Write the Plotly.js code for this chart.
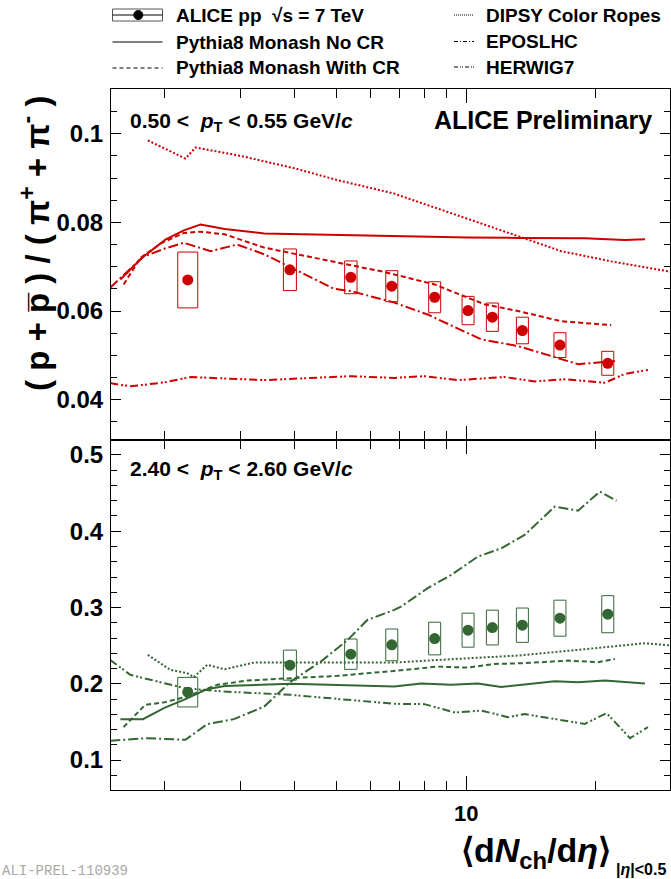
<!DOCTYPE html>
<html><head><meta charset="utf-8">
<script src="https://cdn.plot.ly/plotly-3.0.1.min.js"></script>
<style>html,body{margin:0;padding:0;background:#fff}#chart{width:671px;height:879px}</style>
</head><body><div id="chart"></div>
<script>
// ---------------- data ----------------
const multX = [2.26, 3.90, 5.40, 6.72, 8.45, 10.1, 11.5, 13.5, 16.5, 21.3];

const lowPtRatio = [0.0670, 0.0693, 0.0676, 0.0656, 0.0631, 0.0601, 0.0586, 0.0556, 0.0523, 0.0482];
const lowPtSys   = [0.0063, 0.0047, 0.0037, 0.0035, 0.0035, 0.0032, 0.0032, 0.0030, 0.0028, 0.0027];
const highPtRatio = [0.189, 0.2244, 0.2388, 0.251, 0.2593, 0.2703, 0.2737, 0.2768, 0.286, 0.2912];
const highPtSys   = [0.0194, 0.0197, 0.0199, 0.0208, 0.0214, 0.0223, 0.0228, 0.0225, 0.0236, 0.0243];

// low pT (0.50-0.55 GeV/c) models
const noCRLowX = [1.577, 1.77, 2.006, 2.213, 2.42, 2.753, 3.40, 6.81, 10.09, 13.18, 18.84, 23.3, 26.0];
const noCRLowY = [0.0671, 0.0720, 0.0761, 0.0782, 0.0795, 0.0785, 0.0775, 0.0769, 0.0766, 0.0765, 0.0764, 0.0760, 0.0762];
const withCRLowX = [1.605, 1.755, 1.97, 2.213, 2.42, 2.753, 3.40, 6.46, 8.44, 11.03, 13.18, 16.6, 21.7];
const withCRLowY = [0.0660, 0.0720, 0.0754, 0.0776, 0.0779, 0.0773, 0.0743, 0.0688, 0.0660, 0.0615, 0.0600, 0.0577, 0.0568];
const dipsyLowX = [1.826, 2.232, 2.356, 3.0, 4.0, 5.0, 6.8, 8.44, 9.86, 13.18, 16.6, 21.7, 30.0];
const dipsyLowY = [0.0985, 0.0944, 0.0969, 0.0950, 0.0922, 0.0896, 0.0865, 0.0834, 0.0810, 0.0769, 0.0735, 0.0712, 0.0688];
const eposLowX = [1.494, 1.78, 2.0, 2.213, 2.553, 2.943, 3.40, 3.917, 4.94, 5.40, 6.81, 8.14, 10.84, 13.18, 16.04, 18.18, 22.13];
const eposLowY = [0.0653, 0.0722, 0.0741, 0.0754, 0.0735, 0.0750, 0.0728, 0.0698, 0.0650, 0.0645, 0.0619, 0.0592, 0.0536, 0.0521, 0.0495, 0.0480, 0.0487];
const herwigLowX = [1.494, 1.663, 2.0, 2.293, 3.40, 5.40, 6.81, 8.0, 9.56, 12.27, 14.42, 16.93, 20.97, 23.35, 26.4];
const herwigLowY = [0.0437, 0.0430, 0.0439, 0.0451, 0.0444, 0.0453, 0.0449, 0.0453, 0.0444, 0.0451, 0.0441, 0.0446, 0.0438, 0.0458, 0.0467];

// high pT (2.40-2.60 GeV/c) models
const noCRHighX = [1.577, 1.779, 2.0, 2.213, 2.506, 2.753, 3.917, 6.81, 7.86, 9.23, 10.64, 12.06, 16.04, 18.18, 20.97, 25.98];
const noCRHighY = [0.1536, 0.1536, 0.1688, 0.1789, 0.1929, 0.1972, 0.1999, 0.1963, 0.2003, 0.1986, 0.2003, 0.1959, 0.2034, 0.2021, 0.2042, 0.2003];
const withCRHighX = [1.604, 1.80, 2.0, 2.252, 2.645, 3.105, 3.917, 5.03, 6.81, 8.59, 10.09, 11.63, 13.66, 17.23, 20.23, 22.13];
const withCRHighY = [0.1431, 0.1723, 0.1759, 0.1833, 0.1986, 0.2042, 0.2073, 0.2104, 0.2169, 0.2225, 0.2212, 0.2260, 0.2270, 0.2304, 0.2283, 0.2326];
const dipsyHighX = [1.826, 2.06, 2.252, 2.334, 2.506, 2.753, 3.22, 6.81, 9.23, 13.18, 18.84, 25.98, 30.0];
const dipsyHighY = [0.2379, 0.2182, 0.2139, 0.2087, 0.2248, 0.2191, 0.2278, 0.2278, 0.2322, 0.2370, 0.2453, 0.2532, 0.2501];
const eposHighX = [1.494, 1.817, 2.232, 2.506, 2.892, 3.40, 3.917, 4.60, 5.31, 5.90, 6.81, 7.06, 8.14, 9.23, 10.64, 12.06, 13.66, 16.04, 18.18, 20.42, 22.33];
const eposHighY = [0.1252, 0.1287, 0.1265, 0.1470, 0.1536, 0.1701, 0.2029, 0.2291, 0.2575, 0.2837, 0.2969, 0.3012, 0.3253, 0.3427, 0.3667, 0.3777, 0.3951, 0.4322, 0.4270, 0.4519, 0.4401];
const herwigHighX = [1.494, 1.663, 2.232, 2.753, 3.917, 6.81, 8.0, 9.42, 10.84, 12.5, 13.66, 16.33, 18.84, 21.17, 23.99, 26.4];
const herwigHighY = [0.2313, 0.2117, 0.1940, 0.1898, 0.1855, 0.1737, 0.1733, 0.1623, 0.1649, 0.1562, 0.1602, 0.1527, 0.1474, 0.1615, 0.1287, 0.1431];

const xMinorTicks = [2, 3, 4, 5, 6, 7, 8, 9, 20];
const xMajorTicks = [10];
const xMajorLabels = ['10'];
const yLowTicks = [0.04, 0.06, 0.08, 0.1];
const yLowLabels = ['0.04', '0.06', '0.08', '0.1'];
const yHighTicks = [0.1, 0.2, 0.3, 0.4, 0.5];
const yHighLabels = ['0.1', '0.2', '0.3', '0.4', '0.5'];

// ---------------- styles ----------------
const RED = '#cc0000';
const GREEN = '#336633';
const FONT = 'Liberation Sans, Arial, sans-serif';
const W = 671, H = 879;
const M = {l: 111, r: 1, t: 89, b: 89};
const PW = W - M.l - M.r, PH = H - M.t - M.b;
const XR = [Math.log10(1.5), Math.log10(29.7)];
const decPerPx = (XR[1] - XR[0]) / PW;
const boxHalfPx = [10, 6.5, 6.2, 6, 6, 6, 6, 6, 6, 6];

const DASH = {
  solid: 'solid',
  dashed: '5px,3px',
  dotted: '2px,2px',
  dashdot: '10px,3px,2px,3px',
  dashdotdot: '8px,3px,2px,2px,2px,3px'
};

function boxTrace(xs, ys, sys, color, xa, ya) {
  const bx = [], by = [];
  xs.forEach((x, i) => {
    const f = Math.pow(10, boxHalfPx[i] * decPerPx);
    const lo = ys[i] - sys[i], hi = ys[i] + sys[i];
    bx.push(x / f, x * f, x * f, x / f, x / f, null);
    by.push(lo, lo, hi, hi, lo, null);
  });
  return {x: bx, y: by, xaxis: xa, yaxis: ya, mode: 'lines', type: 'scatter',
    line: {color: color, width: 1}, hoverinfo: 'skip', showlegend: false};
}
function lineTrace(x, y, color, dash, xa, ya, name) {
  return {x: x, y: y, xaxis: xa, yaxis: ya, mode: 'lines', type: 'scatter', name: name,
    line: {color: color, width: 2, dash: dash}, showlegend: false};
}
function pointTrace(x, y, color, xa, ya) {
  return {x: x, y: y, xaxis: xa, yaxis: ya, mode: 'markers', type: 'scatter', name: 'ALICE',
    marker: {color: color, size: 11, symbol: 'circle'}, showlegend: false};
}

const traces = [
  boxTrace(multX, lowPtRatio, lowPtSys, RED, 'x', 'y'),
  lineTrace(dipsyLowX, dipsyLowY, RED, DASH.dotted, 'x', 'y', 'DIPSY'),
  lineTrace(noCRLowX, noCRLowY, RED, DASH.solid, 'x', 'y', 'No CR'),
  lineTrace(withCRLowX, withCRLowY, RED, DASH.dashed, 'x', 'y', 'With CR'),
  lineTrace(eposLowX, eposLowY, RED, DASH.dashdot, 'x', 'y', 'EPOS'),
  lineTrace(herwigLowX, herwigLowY, RED, DASH.dashdotdot, 'x', 'y', 'HERWIG'),
  pointTrace(multX, lowPtRatio, RED, 'x', 'y'),

  boxTrace(multX, highPtRatio, highPtSys, GREEN, 'x2', 'y2'),
  lineTrace(dipsyHighX, dipsyHighY, GREEN, DASH.dotted, 'x2', 'y2', 'DIPSY'),
  lineTrace(noCRHighX, noCRHighY, GREEN, DASH.solid, 'x2', 'y2', 'No CR'),
  lineTrace(withCRHighX, withCRHighY, GREEN, DASH.dashed, 'x2', 'y2', 'With CR'),
  lineTrace(eposHighX, eposHighY, GREEN, DASH.dashdot, 'x2', 'y2', 'EPOS'),
  lineTrace(herwigHighX, herwigHighY, GREEN, DASH.dashdotdot, 'x2', 'y2', 'HERWIG'),
  pointTrace(multX, highPtRatio, GREEN, 'x2', 'y2')
];

const tickFont = {family: FONT, size: 24, color: '#000', weight: 'bold'};
function xAxis(anchor, labels) {
  return {
    type: 'log', range: XR, anchor: anchor, domain: [0, 1],
    showline: true, linecolor: '#000', linewidth: 1, mirror: 'allticks',
    ticks: 'inside', ticklen: 14, tickwidth: 1, tickcolor: '#000',
    tickmode: 'array', tickvals: xMajorTicks, ticktext: labels ? xMajorLabels : [''],
    showticklabels: labels, tickfont: {family: FONT, size: 22, color: '#000', weight: 'bold'}, ticklabelstandoff: 4,
    minor: {tickmode: 'array', tickvals: xMinorTicks, ticks: 'inside', ticklen: 9, tickwidth: 1, tickcolor: '#000', showgrid: false},
    showgrid: false, zeroline: false, fixedrange: true
  };
}
function yAxis(anchor, domain, range, vals, texts, minorD) {
  return {
    anchor: anchor, domain: domain, range: range,
    showline: true, linecolor: '#000', linewidth: 1, mirror: 'allticks',
    ticks: 'inside', ticklen: 10, tickwidth: 1, tickcolor: '#000',
    tickmode: 'array', tickvals: vals, ticktext: texts, tickfont: tickFont, ticklabelstandoff: 2,
    minor: {dtick: minorD, tick0: 0, ticks: 'inside', ticklen: 6, tickwidth: 1, tickcolor: '#000', showgrid: false},
    showgrid: false, zeroline: false, fixedrange: true
  };
}

const px2x = px => (px - M.l) / PW;
const py2y = py => (H - M.b - py) / PH;

function ann(text, px, py, size, xanchor, extra) {
  return Object.assign({text: text, xref: 'paper', yref: 'paper', x: px2x(px), y: py2y(py),
    xanchor: xanchor, yanchor: 'middle', showarrow: false,
    font: {family: FONT, size: size, color: '#000'}}, extra || {});
}

const annotations = [
  ann('<b>0.50 &lt;  <i>p</i><sub>T</sub> &lt; 0.55 GeV/<i>c</i></b>', 128, 122, 21, 'left'),
  ann('<b>ALICE Preliminary</b>', 654, 120, 25, 'right'),
  ann('<b>2.40 &lt;  <i>p</i><sub>T</sub> &lt; 2.60 GeV/<i>c</i></b>', 128, 470, 21, 'left'),
  ann('<b>( p + p\u0305 ) / ( π<sup>+</sup> + π<sup>-</sup> )</b>', 35, 244, 33, 'center', {textangle: -90}),
  ann('<b>⟨d<i>N</i><sub>ch</sub>/d<i>η</i>⟩</b>', 612, 853, 34, 'right', {borderpad: 0}),
  ann('<b>|<i>η</i>|&lt;0.5</b>', 615, 869, 16, 'left', {borderpad: 0}),
  ann('ALI-PREL-110939', 0, 871, 14, 'left', {font: {family: 'Liberation Mono, monospace', size: 14, color: '#a8a8a8'}}),
  // legend text
  ann('<b>ALICE pp  √s = 7 TeV</b>', 174, 15, 19, 'left'),
  ann('<b>Pythia8 Monash No CR</b>', 174, 42, 19, 'left'),
  ann('<b>Pythia8 Monash With CR</b>', 174, 68, 19, 'left'),
  ann('<b>DIPSY Color Ropes</b>', 484, 15, 19, 'left'),
  ann('<b>EPOSLHC</b>', 484, 41.5, 19, 'left'),
  ann('<b>HERWIG7</b>', 484, 67, 19, 'left')
];

function legLine(x0, x1, py, dash) {
  return {type: 'line', xref: 'paper', yref: 'paper', x0: px2x(x0), x1: px2x(x1), y0: py2y(py), y1: py2y(py),
    line: {color: '#000', width: 1, dash: dash}};
}
const shapes = [
  {type: 'rect', xref: 'paper', yref: 'paper', x0: px2x(112.5), x1: px2x(162.5), y0: py2y(21), y1: py2y(9),
    line: {color: '#555', width: 1}, fillcolor: 'rgba(0,0,0,0)'},
  legLine(112.5, 162.5, 15, 'solid'),
  {type: 'circle', xref: 'paper', yref: 'paper', x0: px2x(133.8), x1: px2x(142.8), y0: py2y(19.5), y1: py2y(10.5),
    line: {color: '#000', width: 1}, fillcolor: '#000'},
  legLine(112.5, 162.5, 42, 'solid'),
  legLine(112.5, 162.5, 68, '4px,3px'),
  legLine(454, 474, 15, '1px,1px'),
  legLine(454, 474, 41.5, '4px,2px,1px,2px'),
  legLine(454, 474, 67, '4px,2px,1px,1px,1px,2px')
];

const layout = {
  width: W, height: H, margin: M,
  paper_bgcolor: '#fff', plot_bgcolor: '#fff',
  showlegend: false,
  xaxis: xAxis('y', false),
  yaxis: yAxis('x', [0.5, 1], [0.031, 0.1101], yLowTicks, yLowLabels, 0.005),
  xaxis2: xAxis('y2', true),
  yaxis2: yAxis('x2', [0, 0.5], [0.0607, 0.5203], yHighTicks, yHighLabels, 0.02),
  annotations: annotations,
  shapes: shapes
};

Plotly.newPlot('chart', traces, layout, {displayModeBar: false, staticPlot: true});
</script>
</body></html>
